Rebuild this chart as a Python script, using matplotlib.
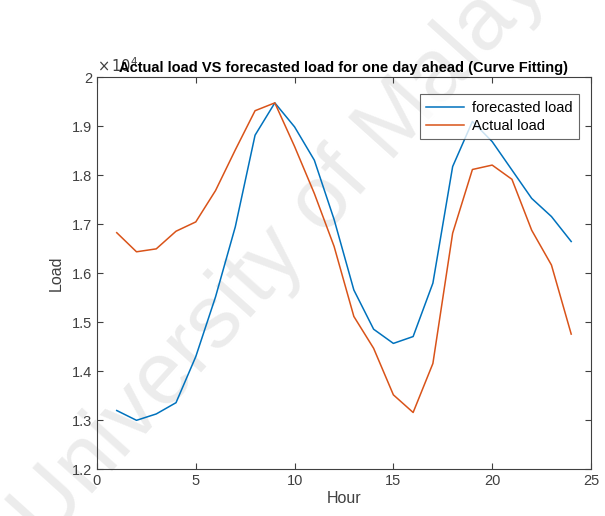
import matplotlib
matplotlib.use("Agg")
import matplotlib.pyplot as plt
from matplotlib.ticker import FuncFormatter

hours = list(range(1, 25))
forecasted_load = [13200, 13000, 13130, 13360, 14300, 15520, 16950, 18820, 19480, 18990,
                   18310, 17100, 15660, 14860, 14570, 14710, 15800, 18180, 19100, 18690,
                   18110, 17530, 17160, 16650]
actual_load = [16830, 16440, 16500, 16860, 17050, 17690, 18520, 19320, 19480, 18590,
               17630, 16550, 15120, 14470, 13520, 13160, 14160, 16820, 18120, 18210,
               17920, 16880, 16170, 14760]

plt.rcParams["font.family"] = ["Liberation Sans", "DejaVu Sans"]

fig = plt.figure(figsize=(6.05, 5.16), dpi=100)
ax = fig.add_axes([0.1603, 0.0905, 0.8165, 0.7595])
ax.set_facecolor("none")

# faint watermark behind the axes
fig.text(0.49, 0.55, "University of Malaya", fontsize=64, color="#ececec",
         rotation=48, ha="center", va="center", zorder=-1)

ax.plot(hours, forecasted_load, color=(0, 0.447, 0.741), lw=1.1, label="forecasted load")
ax.plot(hours, actual_load, color=(0.85, 0.325, 0.098), lw=1.1, label="Actual load")

ax.set_xlim(0, 25)
ax.set_ylim(12000, 20000)
ax.set_xticks([0, 5, 10, 15, 20, 25])
ax.set_yticks([12000 + 1000 * i for i in range(9)])
ax.yaxis.set_major_formatter(FuncFormatter(lambda v, p: "%g" % round(v / 1e4, 2)))

grey = "#404040"
ax.tick_params(direction="in", top=True, right=True, length=4, width=0.8,
               colors=grey, labelsize=10.5)
for s in ax.spines.values():
    s.set_color(grey)
    s.set_linewidth(0.8)

ax.set_xlabel("Hour", fontsize=11.5, color=grey, labelpad=2)
ax.set_ylabel("Load", fontsize=11.5, color=grey, labelpad=6)
ax.text(0.0, 1.005, r"$\times\,10^{4}$", transform=ax.transAxes, fontsize=10.5,
        color=grey, ha="left", va="bottom")
ax.set_title("Actual load VS forecasted load for one day ahead (Curve Fitting)",
             fontsize=10.5, fontweight="bold", pad=4)

leg = ax.legend(loc="upper right", fontsize=10.5, frameon=True, fancybox=False,
                edgecolor=grey, borderpad=0.45, handlelength=2.6, handletextpad=0.5,
                labelspacing=0.25, bbox_to_anchor=(0.99, 0.975))
leg.get_frame().set_linewidth(0.8)

fig.savefig("out.png", dpi=100)
